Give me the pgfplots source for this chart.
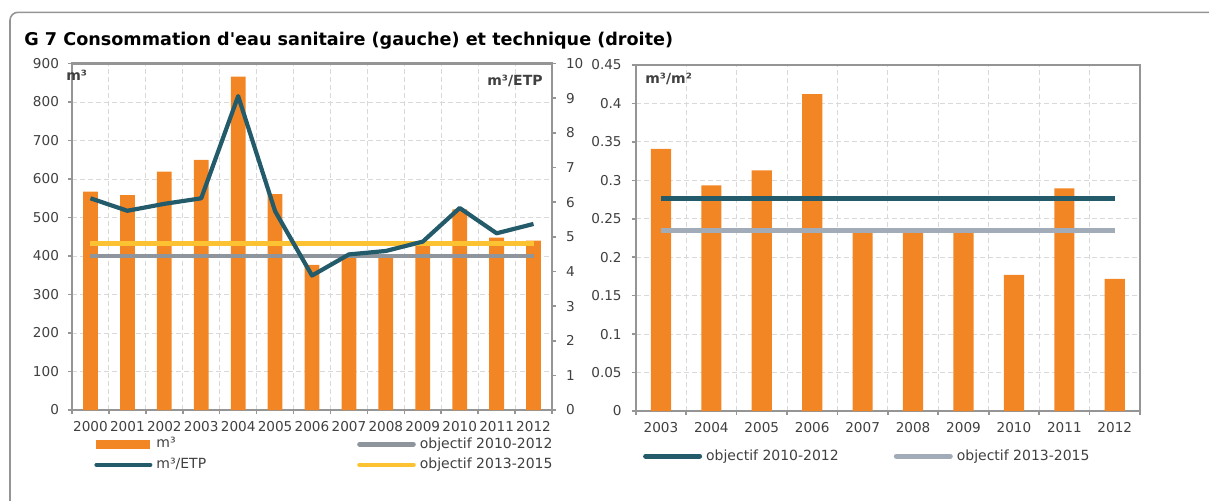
\documentclass[border=0pt]{standalone}
\usepackage{fontspec}
\setmainfont{DejaVu Sans}[Ligatures=TeXOff]
\usepackage{pgfplots}
\pgfplotsset{compat=1.18}

\definecolor{barorange}{HTML}{F38624}
\definecolor{tealline}{HTML}{245B6B}
\definecolor{objgrey}{HTML}{8E959C}
\definecolor{objyellow}{HTML}{FDC231}
\definecolor{objblue}{HTML}{A2ACB8}
\definecolor{axiscol}{HTML}{959595}
\definecolor{gridcol}{HTML}{D9D9D9}
\definecolor{txt}{HTML}{404040}

\pgfplotsset{
  chartbase/.style={
    scale only axis,
    axis line style={axiscol, line width=1.2pt},
    tick style={axiscol, line width=0.8pt},
    tick align=outside,
    major tick length=2pt,
    ticklabel style={font=\fontsize{6.8}{7.5}\selectfont, text=txt},
    xticklabel style={yshift=-2pt},
    /pgf/number format/assume math mode=true,
    grid style={gridcol, line width=0.5pt, dash pattern=on 2.5pt off 1.5pt},
    legend cell align=left,
    legend image code/.code={\draw[#1, line cap=round] (0pt,0pt) -- (27pt,0pt);},
  },
}

\begin{document}
\begin{tikzpicture}
\useasboundingbox (0pt,0pt) rectangle (604.5pt,-250pt);
\draw[axiscol, line width=0.8pt, rounded corners=4pt] (5pt,-260pt) -- (5pt,-6.15pt) -- (604.5pt,-6.15pt);
\node[anchor=base west, inner sep=0pt, font=\bfseries\fontsize{8.8}{10}\selectfont]
  at (12pt,-22.85pt) {G 7 Consommation d'eau sanitaire (gauche) et technique (droite)};

% gauche : m3 par annee
\begin{axis}[chartbase,
  at={(36pt,-205pt)}, anchor=south west,
  width=240pt, height=173.25pt,
  xmin=-0.5, xmax=12.5, ymin=0, ymax=900,
  ytick={0,100,...,900},
  yticklabel style={xshift=-1pt},
  xtick={-0.5,0.5,...,12.5}, xticklabels={},
  extra x ticks={0,1,...,12},
  extra x tick labels={2000,2001,2002,2003,2004,2005,2006,2007,2008,2009,2010,2011,2012},
  extra x tick style={major tick length=0pt, grid=none},
  xmajorgrids, ymajorgrids,
  tick pos=left,
  legend columns=2,
  legend style={draw=none, fill=none, at={(0,0)}, anchor=north west,
    xshift=8pt, yshift=-9.5pt, font=\fontsize{7}{8}\selectfont, text=txt,
    row sep=-0.5pt, /tikz/column 2/.style={column sep=73.5pt}},
]
\addplot[ybar, bar width=0.4, bar shift=0pt, fill=barorange, draw=none,
  legend image code/.code={\fill[barorange] (0pt,-2.2pt) rectangle (27pt,2.2pt);}]
  coordinates {(0,567) (1,558) (2,619) (3,650) (4,866) (5,561) (6,377)
               (7,395) (8,400) (9,438) (10,521) (11,448) (12,440)};
\addlegendentry{m³}
\addplot[objgrey, line width=2.3pt] coordinates {(0,400) (12,400)};
\addlegendentry{objectif 2010-2012}
\addlegendimage{tealline, line width=2pt}
\addlegendentry{m³/ETP}
\addplot[objyellow, line width=2.3pt] coordinates {(0,433) (12,433)};
\addlegendentry{objectif 2013-2015}
\end{axis}

% gauche : m3 par ETP (axe de droite)
\begin{axis}[chartbase,
  at={(36pt,-205pt)}, anchor=south west,
  width=240pt, height=173.25pt,
  xmin=-0.5, xmax=12.5, ymin=0, ymax=10,
  ytick={0,1,...,10},
  yticklabel style={xshift=1.5pt},
  axis y line*=right, axis x line=none,
]
\addplot[tealline, line width=2.1pt, line join=round] coordinates {
  (0,6.11) (1,5.75) (2,5.95) (3,6.11) (4,9.06) (5,5.74) (6,3.88)
  (7,4.49) (8,4.59) (9,4.86) (10,5.83) (11,5.10) (12,5.37)};
\end{axis}

% droite : m3/m2
\begin{axis}[chartbase,
  at={(317.85pt,-205.5pt)}, anchor=south west,
  width=252.15pt, height=173pt,
  xmin=-0.5, xmax=9.5, ymin=0, ymax=0.45,
  ytick={0,0.05,0.1,0.15,0.2,0.25,0.3,0.35,0.4,0.45},
  yticklabel style={xshift=-1.5pt, /pgf/number format/fixed, /pgf/number format/precision=2},
  xtick={-0.5,0.5,...,9.5}, xticklabels={},
  extra x ticks={0,1,...,9},
  extra x tick labels={2003,2004,2005,2006,2007,2008,2009,2010,2011,2012},
  extra x tick style={major tick length=0pt, grid=none},
  xmajorgrids, ymajorgrids,
  tick pos=left,
  legend columns=2,
  legend style={draw=none, fill=none, at={(0,0)}, anchor=north west,
    xshift=0.5pt, yshift=-15pt, font=\fontsize{7}{8}\selectfont, text=txt,
    /tikz/column 2/.style={column sep=25.5pt}},
]
\addplot[ybar, bar width=0.4, bar shift=0pt, fill=barorange, draw=none, forget plot]
  coordinates {(0,0.341) (1,0.2935) (2,0.313) (3,0.412) (4,0.233)
               (5,0.238) (6,0.234) (7,0.177) (8,0.2895) (9,0.172)};
\addplot[tealline, line width=2.5pt] coordinates {(0,0.2765) (9,0.2765)};
\addlegendentry{objectif 2010-2012}
\addplot[objblue, line width=2.5pt] coordinates {(0,0.235) (9,0.235)};
\addlegendentry{objectif 2013-2015}
\end{axis}

\node[anchor=north west, inner sep=0pt, font=\bfseries\fontsize{7}{8}\selectfont, text=txt]
  at (33pt,-35pt) {m³};
\node[anchor=north east, inner sep=0pt, font=\bfseries\fontsize{7}{8}\selectfont, text=txt]
  at (271.5pt,-37.5pt) {m³/ETP};
\node[anchor=north west, inner sep=0pt, font=\bfseries\fontsize{7}{8}\selectfont, text=txt]
  at (322.5pt,-36.5pt) {m³/m²};
\end{tikzpicture}
\end{document}
